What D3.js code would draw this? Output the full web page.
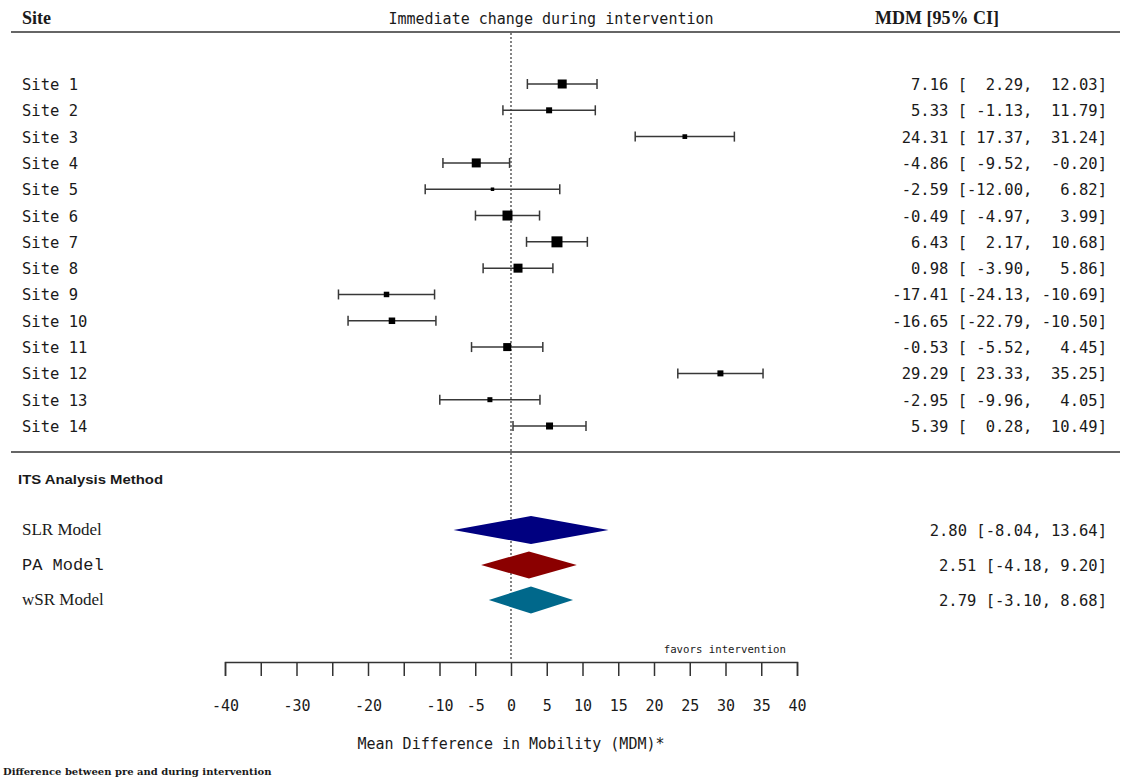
<!DOCTYPE html>
<meta charset="utf-8">
<head>
  <title>Forest plot: immediate change during intervention</title>
  <script src="https://d3js.org/d3.v7.min.js"></script>
  <style>
    body { margin: 0; background: #fff; }
    text { fill: #1a1a1a; }
    .mono { font-family: Consolas, "DejaVu Sans Mono", "Liberation Mono", monospace; }
  </style>
</head>
<body>
  <div id="my_dataviz"></div>
  <script>
    var width = 1125, height = 778;

    // site level estimates
    var sites = ["Site 1", "Site 2", "Site 3", "Site 4", "Site 5", "Site 6", "Site 7",
      "Site 8", "Site 9", "Site 10", "Site 11", "Site 12", "Site 13", "Site 14"];
    var mdm = [7.16, 5.33, 24.31, -4.86, -2.59, -0.49, 6.43, 0.98, -17.41, -16.65, -0.53, 29.29, -2.95, 5.39];
    var lower = [2.29, -1.13, 17.37, -9.52, -12.00, -4.97, 2.17, -3.90, -24.13, -22.79, -5.52, 23.33, -9.96, 0.28];
    var upper = [12.03, 11.79, 31.24, -0.20, 6.82, 3.99, 10.68, 5.86, -10.69, -10.50, 4.45, 35.25, 4.05, 10.49];
    var weights = [9, 6, 4.7, 9, 3.5, 10, 11, 9, 5.5, 6.5, 8, 6, 5, 7];

    // pooled estimates
    var models = ["SLR Model", "PA Model", "wSR Model"];
    var modelMdm = [2.80, 2.51, 2.79];
    var modelLower = [-8.04, -4.18, -3.10];
    var modelUpper = [13.64, 9.20, 8.68];
    var modelColors = ["#000080", "#8b0000", "#00688b"];
    var modelFonts = ['"Liberation Serif", serif', '"Courier New", "Liberation Mono", monospace', '"Liberation Serif", serif'];

    var tickValues = [-40, -35, -30, -25, -20, -15, -10, -5, 0, 5, 10, 15, 20, 25, 30, 35, 40];
    var tickLabels = ["-40", "", "-30", "", "-20", "", "-10", "-5", "0", "5", "10", "15", "20", "25", "30", "35", "40"];

    var svg = d3.select("#my_dataviz")
      .append("svg")
      .attr("width", width)
      .attr("height", height);

    var x = d3.scaleLinear().domain([-40, 40]).range([225, 797]);
    var y = d3.scalePoint().domain(sites).range([84, 426]);
    var ym = d3.scalePoint().domain(models).range([530, 600]);

    // header
    svg.append("text").attr("x", 22).attr("y", 24)
      .style("font-family", '"Liberation Serif", serif').style("font-weight", "bold").style("font-size", "18px")
      .text("Site");
    svg.append("text").attr("class", "mono").attr("x", 551).attr("y", 24)
      .attr("text-anchor", "middle").style("font-size", "15px")
      .text("Immediate change during intervention");
    svg.append("text").attr("x", 937).attr("y", 24)
      .attr("text-anchor", "middle")
      .style("font-family", '"Liberation Serif", serif').style("font-weight", "bold").style("font-size", "18px")
      .text("MDM [95% CI]");

    svg.append("line").attr("x1", 11).attr("x2", 1120).attr("y1", 32).attr("y2", 32)
      .attr("stroke", "#333").attr("stroke-width", 1.5);
    svg.append("line").attr("x1", 11).attr("x2", 1120).attr("y1", 452).attr("y2", 452)
      .attr("stroke", "#333").attr("stroke-width", 1.5);

    // null line
    svg.append("line").attr("x1", x(0)).attr("x2", x(0)).attr("y1", 33).attr("y2", 661)
      .attr("stroke", "#333").attr("stroke-width", 1.2).attr("stroke-dasharray", "2,2");

    var rows = sites.map(function (s, i) {
      return { site: s, m: mdm[i], lo: lower[i], hi: upper[i], w: weights[i] };
    });

    var g = svg.append("g");
    g.selectAll(".ci").data(rows).enter().append("line")
      .attr("x1", d => x(d.lo)).attr("x2", d => x(d.hi))
      .attr("y1", d => y(d.site)).attr("y2", d => y(d.site))
      .attr("stroke", "#383838").attr("stroke-width", 1.5);
    ["lo", "hi"].forEach(function (k) {
      g.selectAll(".cap-" + k).data(rows).enter().append("line")
        .attr("x1", d => x(d[k])).attr("x2", d => x(d[k]))
        .attr("y1", d => y(d.site) - 5).attr("y2", d => y(d.site) + 5)
        .attr("stroke", "#383838").attr("stroke-width", 1.5);
    });
    g.selectAll("rect").data(rows).enter().append("rect")
      .attr("x", d => x(d.m) - d.w / 2).attr("y", d => y(d.site) - d.w / 2)
      .attr("width", d => d.w).attr("height", d => d.w)
      .attr("fill", "#000");

    g.selectAll(".lab").data(rows).enter().append("text")
      .attr("class", "mono").attr("x", 22).attr("y", d => y(d.site) + 6)
      .style("font-size", "15.5px").text(d => d.site);

    function pad(v, n) { return v.toFixed(2).padStart(n, " "); }
    g.selectAll(".est").data(rows).enter().append("text")
      .attr("class", "mono").attr("x", 1107).attr("y", d => y(d.site) + 6)
      .attr("text-anchor", "end").style("font-size", "15.5px").style("white-space", "pre")
      .text(d => d.m.toFixed(2) + " [" + pad(d.lo, 6) + ", " + pad(d.hi, 6) + "]");

    // pooled section
    svg.append("text").attr("x", 18).attr("y", 484)
      .style("font-family", '"Liberation Sans", Arial, sans-serif').style("font-weight", "900")
      .style("font-size", "12.5px").attr("textLength", 145).attr("lengthAdjust", "spacingAndGlyphs")
      .text("ITS Analysis Method");

    var pooled = models.map(function (s, i) {
      return { name: s, m: modelMdm[i], lo: modelLower[i], hi: modelUpper[i], c: modelColors[i], f: modelFonts[i], h: i === 0 ? 14 : 13.5 };
    });

    svg.selectAll(".diamond").data(pooled).enter().append("path")
      .attr("d", d => {
        var cy = ym(d.name);
        return "M" + x(d.lo) + "," + cy + "L" + x(d.m) + "," + (cy - d.h) +
          "L" + x(d.hi) + "," + cy + "L" + x(d.m) + "," + (cy + d.h) + "Z";
      })
      .attr("fill", d => d.c);

    svg.selectAll(".mlab").data(pooled).enter().append("text")
      .attr("x", 22).attr("y", d => ym(d.name) + 5)
      .style("font-family", d => d.f).style("font-size", "17px")
      .text(d => d.name);

    svg.selectAll(".mest").data(pooled).enter().append("text")
      .attr("class", "mono").attr("x", 1107).attr("y", d => ym(d.name) + 6)
      .attr("text-anchor", "end").style("font-size", "15.5px")
      .text(d => d.m.toFixed(2) + " [" + d.lo.toFixed(2) + ", " + d.hi.toFixed(2) + "]");

    // axis
    var axis = svg.append("g")
      .attr("transform", "translate(0,662)")
      .call(d3.axisBottom(x).tickValues(tickValues).tickSize(14).tickPadding(24)
        .tickFormat((d, i) => tickLabels[i]));
    axis.select(".domain").attr("stroke", "#333").attr("stroke-width", 1.5);
    axis.selectAll(".tick line").attr("stroke", "#333").attr("stroke-width", 1.5);
    axis.selectAll(".tick text").attr("class", "mono").style("font-size", "15px").attr("fill", "#1a1a1a");

    svg.append("text").attr("class", "mono").attr("x", 786).attr("y", 653)
      .attr("text-anchor", "end").style("font-size", "10.7px")
      .text("favors intervention");

    svg.append("text").attr("class", "mono").attr("x", 511).attr("y", 749)
      .attr("text-anchor", "middle").style("font-size", "15px")
      .text("Mean Difference in Mobility (MDM)*");

    svg.append("text").attr("x", 3).attr("y", 775)
      .style("font-family", '"DejaVu Serif", serif').style("font-weight", "bold").style("font-size", "10px")
      .text("Difference between pre and during intervention");
  </script>
</body>
</html>
